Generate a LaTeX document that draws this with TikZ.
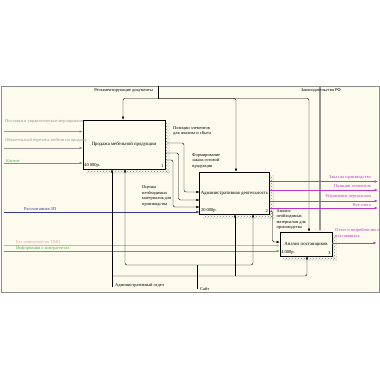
\documentclass[tikz,border=0pt]{standalone}
\usepackage{fontspec}
\setmainfont{Liberation Serif}
\usetikzlibrary{arrows.meta,patterns}
\definecolor{paper}{RGB}{253,250,238}
\definecolor{framegrey}{RGB}{140,140,140}
\definecolor{ingrey}{RGB}{150,150,150}
\definecolor{ingreen}{RGB}{80,175,80}
\definecolor{inblue}{RGB}{55,55,150}
\definecolor{inpink}{RGB}{225,165,160}
\definecolor{outmag}{RGB}{190,55,200}
\tikzset{
  func/.style={draw, line width=0.8pt, fill=paper, align=center, inner sep=1pt,
    font=\fontsize{4.8}{5.8}\selectfont},
  cost/.style={inner sep=1.5pt, font=\fontsize{4.5}{5}\selectfont},
  lbl/.style={inner sep=0pt, align=left, font=\fontsize{4.4}{5.6}\selectfont},
  flow/.style={line width=0.4pt, rounded corners=2pt},
  tip/.style={-{Latex[length=3pt,width=2.6pt]}},
  shade/.style={pattern=crosshatch dots, pattern color=gray}
}
\begin{document}
\begin{tikzpicture}[x=1pt,y=-1pt]
    \fill[white] (0,0) rectangle (380,380);
    \useasboundingbox (0,0) rectangle (380,380);
    \draw[framegrey, fill=paper] (1,86) rectangle (379,292);
    % blocks
    \node[func, minimum width=82pt, minimum height=49pt] (prod) at (124,144.5) {Продажа мебельной продукции};
    \node[func, minimum width=67pt, minimum height=42pt] (admin) at (234.5,193) {Административная деятельность};
    \node[func, minimum width=52pt, minimum height=24pt] (anal) at (306,244) {Анализ поставщиков};
    \foreach \b in {prod,admin,anal} {
        \fill[shade] ([yshift=-4pt]\b.north east) rectangle ([xshift=4pt,yshift=-4pt]\b.south east);
        \fill[shade] ([xshift=4pt]\b.south west) rectangle ([xshift=4pt,yshift=-4pt]\b.south east);
    }
    \node[cost, anchor=south west] at (prod.south west) {40 000р.};
    \node[cost, anchor=south east] at (prod.south east) {1};
    \node[cost, anchor=south west] at (admin.south west) {20 000р.};
    \node[cost, anchor=south east] at (admin.south east) {2};
    \node[cost, anchor=south west] at (anal.south west) {4 000р.};
    \node[cost, anchor=south east] at (anal.south east) {3};
    % controls
    \coordinate (regl) at (158,86);
    \coordinate (reglJ) at (158,98.5);
    \coordinate (law) at (320,86);
    \draw[flow] (regl) -- (reglJ);
    \draw[flow,tip] (reglJ) -| ([xshift=-1pt]prod.north);
    \draw[flow,tip] (reglJ) -| ([xshift=1.5pt]admin.north);
    \draw[flow,tip] (reglJ) -| ([xshift=3pt]anal.north);
    \draw[ingrey, line width=1.2pt, -{Latex[length=3pt,width=2.6pt]}] (law) -- (law |- anal.north);
    \node[lbl, anchor=base east] (reglT) at (153,91) {Регламентирующие документы};
    \node[lbl, anchor=base] (lawT) at (321,91) {Законодательство РФ};
    % inputs
    \coordinate (inA) at (4,131.5);
    \coordinate (inB) at (4,148);
    \coordinate (inC) at (4,163);
    \coordinate (inD) at (4,212);
    \coordinate (inE) at (4,245.5);
    \coordinate (inF) at (4,251);
    \draw[flow, ingrey, tip] (inA) -- (inA -| prod.west);
    \draw[flow, ingrey, tip] (inB) -- (inB -| prod.west);
    \draw[flow, ingreen, tip] (inC) -- (inC -| prod.west);
    \draw[flow, inblue, tip] (inD) -- (inD -| admin.west);
    \draw[flow, inpink, tip] (inE) -- (inE -| anal.west);
    \draw[flow, ingreen, tip] (inF) -- (inF -| anal.west);
    \node[lbl, ingrey, anchor=west] at (5,122) {Поставки и управленческие мероприятия};
    \node[lbl, ingrey, anchor=west] at (5,140) {Обязательный перечень мебели на продажу};
    \node[lbl, ingreen, anchor=west] at (6,161.5) {Клиент};
    \node[lbl, inblue, anchor=west] at (24,209.5) {Рассчитанная ЗП};
    \node[lbl, inpink, anchor=west] at (16,242) {Без изменений по ТМЦ};
    \node[lbl, ingreen, anchor=west] at (16,248) {Информация о контрагентах};
    % block 1 -> block 2
    \draw[flow,tip] ([yshift=1.5pt]prod.east) -| (184,192) -- ([yshift=1pt]admin.west);
    \draw[flow,tip] ([yshift=-8.5pt]prod.east) -| (178.5,200) -- ([yshift=-7pt]admin.west);
    \draw[flow,tip] ([yshift=-15.5pt]prod.east) -| (173,207) -- ([yshift=-14pt]admin.west);
    \node[lbl, anchor=west] at (173,131) {Позиции элементов\\для анализа и сбыта};
    \node[lbl, anchor=west] at (192,161) {Формирование\\заказа готовой\\продукции};
    \node[lbl, anchor=west] at (142,196) {Оценка\\необходимых\\материалов для\\производства};
    % block 2 -> block 3
    \draw[flow,tip] ([yshift=-18pt]admin.east) -| (272.5,242) -- ([yshift=2pt]anal.west);
    \node[lbl, anchor=west] at (276.5,219.5) {Анализ\\необходимых\\материалов для\\производства};
    % outputs
    \draw[flow, outmag, tip] ([yshift=11.5pt]admin.east) -- ++(108,0);
    \draw[flow, outmag, tip] ([yshift=3pt]admin.east) -- ++(108,0);
    \draw[flow, outmag, tip] ([yshift=-8pt]admin.east) -- ++(108,0);
    \draw[flow, outmag, tip] ([yshift=-15pt]admin.east) -- ++(108,0);
    \draw[flow, outmag, tip] ([yshift=1pt]anal.east) -- ++(44,0);
    \node[lbl, outmag, anchor=east] at (371,177.5) {Заказ на производство};
    \node[lbl, outmag, anchor=east] at (371,186) {Позиции элементов};
    \node[lbl, outmag, anchor=east] at (371,197) {Управление персоналом};
    \node[lbl, outmag, anchor=east] at (371,205.5) {Все счета};
    \node[lbl, outmag, anchor=west] at (335,233.5) {Отчет о потребностях и\\поставщиках};
    % mechanisms
    \coordinate (admTail) at (112,287);
    \coordinate (admJ) at (112,276);
    \coordinate (admK) at (235,276);
    \coordinate (siteTail) at (197,289);
    \coordinate (siteJ) at (197,265);
    \draw[flow,tip] (admTail) -- (admTail |- prod.south);
    \draw[flow,tip] (admJ) -| ([xshift=1pt]anal.south);
    \draw[flow,tip] (admK) -- (admK |- admin.south);
    \draw[flow] (siteTail) -- (siteJ);
    \draw[flow,tip] (siteJ) -| ([xshift=1pt]prod.south);
    \draw[flow,tip] (siteJ) -| ([xshift=18.5pt]admin.south);
    \node[lbl, anchor=west] at (115,285) {Административный отдел};
    \node[lbl, anchor=west] at (200,289) {Сайт};
\end{tikzpicture}
\end{document}
